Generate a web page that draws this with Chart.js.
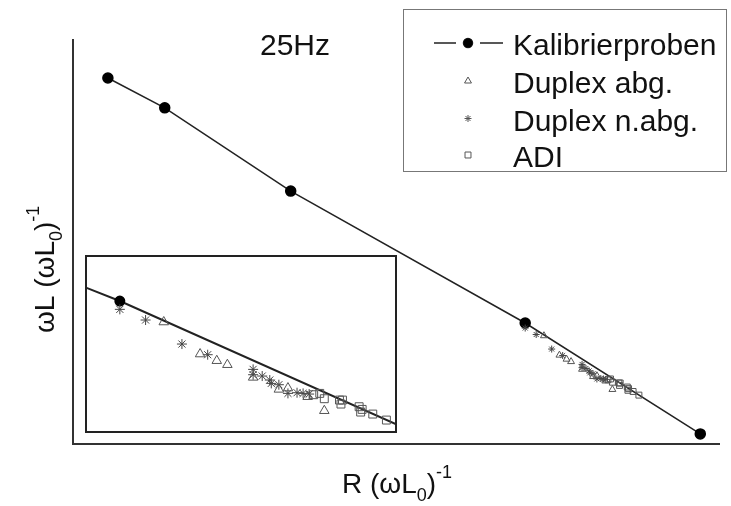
<!DOCTYPE html>
<html>
<head>
<meta charset="utf-8">
<script src="https://cdn.jsdelivr.net/npm/chart.js@4.4.0/dist/chart.umd.min.js"></script>
<style>
  html, body { margin: 0; padding: 0; background: #fff; }
  #wrap { position: relative; width: 731px; height: 506px; }
  #main { position: absolute; left: 0; top: 0; }
  #inset { position: absolute; left: 85px; top: 255px; }
</style>
</head>
<body>
<div id="wrap">
  <canvas id="main" width="731" height="506"></canvas>
  <canvas id="inset" width="312" height="178"></canvas>
</div>
<script>
// calibration samples (line with dots)
const calibX = [5.4, 14.2, 33.7, 70.0, 97.1];
const calibY = [90.6, 83.2, 62.6, 29.95, 2.5];

// Duplex abg. (triangles)
const duplexAbgX = [72.9, 75.3, 76.4, 77.1, 78.8, 80.5, 81.1, 82.4, 83.5];
const duplexAbgY = [26.8, 22.0, 21.0, 20.4, 18.5, 16.7, 16.9, 15.6, 13.5];

// Duplex n.abg. (stars)
const duplexNabgX = [70.0, 71.7, 74.1, 75.8, 78.8, 78.8, 79.4, 79.9, 80.0, 80.5, 81.1, 81.7, 82.1, 82.5];
const duplexNabgY = [28.7, 27.1, 23.5, 21.9, 19.7, 18.9, 18.7, 18.1, 17.6, 17.4, 16.1, 16.2, 16.1, 16.0];

// ADI (squares)
const adiX = [82.8, 83.2, 83.5, 84.5, 84.7, 84.6, 85.8, 86.0, 85.9, 86.7, 87.6];
const adiY = [15.9, 16.1, 15.3, 15.1, 15.1, 14.5, 14.1, 13.7, 13.3, 13.0, 12.1];

const seriesNames = ["Kalibrierproben", "Duplex abg.", "Duplex n.abg.", "ADI"];
const freqLabel = "25Hz";

const FONT = '"Liberation Sans", Arial, sans-serif';
const pts = (xs, ys) => xs.map((x, i) => ({ x: x, y: ys[i] }));

function makeDatasets(big) {
  // big = main chart, otherwise inset
  return [
    {
      type: "scatter", label: seriesNames[1], data: pts(duplexAbgX, duplexAbgY),
      pointStyle: "triangle", pointRadius: big ? 4 : 5.5,
      borderColor: "#555", backgroundColor: "rgba(255,255,255,0)", borderWidth: 1
    },
    {
      type: "scatter", label: seriesNames[2], data: pts(duplexNabgX, duplexNabgY),
      pointStyle: "star", pointRadius: big ? 3.5 : 5,
      borderColor: "#444", backgroundColor: "#444", borderWidth: 1
    },
    {
      type: "scatter", label: seriesNames[3], data: pts(adiX, adiY),
      pointStyle: "rect", pointRadius: big ? 4.2 : 5.6,
      borderColor: "#555", backgroundColor: "rgba(255,255,255,0)", borderWidth: 1
    },
    {
      type: "line", label: seriesNames[0], data: pts(calibX, calibY),
      borderColor: "#222", borderWidth: big ? 1.5 : 2,
      pointStyle: "circle", pointRadius: big ? 5 : 4.5,
      pointBackgroundColor: "#000", pointBorderColor: "#000", tension: 0
    }
  ];
}

function richText(ctx, x, y, parts, rotate) {
  ctx.save();
  ctx.translate(x, y);
  if (rotate) ctx.rotate(-Math.PI / 2);
  ctx.fillStyle = "#111";
  ctx.textBaseline = "alphabetic";
  let cx = 0;
  parts.forEach(p => {
    ctx.font = p.size + "px " + FONT;
    ctx.fillText(p.t, cx, p.dy || 0);
    cx += ctx.measureText(p.t).width;
  });
  ctx.restore();
}

const decorPlugin = {
  id: "decor",
  afterDraw(chart) {
    const ctx = chart.ctx;
    // axis titles
    richText(ctx, 342, 493, [
      { t: "R (\u03c9L", size: 28 },
      { t: "0", size: 18, dy: 8 },
      { t: ")", size: 28 },
      { t: "-1", size: 18, dy: -15 }
    ], false);
    richText(ctx, 54, 333, [
      { t: "\u03c9L (\u03c9L", size: 28 },
      { t: "0", size: 18, dy: 8 },
      { t: ")", size: 28 },
      { t: "-1", size: 18, dy: -15 }
    ], true);
    // frequency label
    ctx.save();
    ctx.font = "30px " + FONT;
    ctx.fillStyle = "#111";
    ctx.fillText(freqLabel, 260, 55);
    ctx.restore();

    // legend
    ctx.save();
    ctx.strokeStyle = "#777";
    ctx.lineWidth = 1;
    ctx.strokeRect(403.5, 9.5, 323, 162);
    const rows = [55, 92.5, 130.5, 166.5];
    ctx.font = "30px " + FONT;
    ctx.fillStyle = "#111";
    rows.forEach((b, i) => ctx.fillText(seriesNames[i], 513, b));
    const my = [43, 81, 118.5, 155];
    ctx.strokeStyle = "#222";
    ctx.lineWidth = 1.5;
    ctx.beginPath();
    ctx.moveTo(434, my[0]); ctx.lineTo(456, my[0]);
    ctx.moveTo(480, my[0]); ctx.lineTo(503, my[0]);
    ctx.stroke();
    ctx.fillStyle = "#000";
    Chart.helpers.drawPoint(ctx, { pointStyle: "circle", radius: 4.5, borderWidth: 1 }, 468, my[0]);
    ctx.fill();
    ctx.strokeStyle = "#555";
    ctx.lineWidth = 1;
    ctx.fillStyle = "rgba(255,255,255,0)";
    Chart.helpers.drawPoint(ctx, { pointStyle: "triangle", radius: 4, borderWidth: 1 }, 468, my[1]);
    Chart.helpers.drawPoint(ctx, { pointStyle: "star", radius: 3.5, borderWidth: 1 }, 468, my[2]);
    Chart.helpers.drawPoint(ctx, { pointStyle: "rect", radius: 4.2, borderWidth: 1 }, 468, my[3]);
    ctx.restore();
  }
};

new Chart(document.getElementById("main"), {
  data: { datasets: makeDatasets(true) },
  options: {
    responsive: false, animation: false, devicePixelRatio: 1,
    layout: { autoPadding: false, padding: { top: 40, right: 12, left: 0, bottom: 0 } },
    plugins: { legend: { display: false }, tooltip: { enabled: false } },
    scales: {
      x: {
        type: "linear", min: 0, max: 100,
        ticks: { display: false }, grid: { display: false, drawTicks: false },
        border: { display: true, color: "#333", width: 2 },
        afterFit: s => { s.height = 62; }
      },
      y: {
        type: "linear", min: 0, max: 100,
        ticks: { display: false }, grid: { display: false, drawTicks: false },
        border: { display: true, color: "#333", width: 2 },
        afterFit: s => { s.width = 73; }
      }
    }
  },
  plugins: [decorPlugin]
});

const insetFrame = {
  id: "insetFrame",
  beforeDraw(chart) {
    const ctx = chart.ctx;
    ctx.save();
    ctx.fillStyle = "#fff";
    ctx.fillRect(0, 0, chart.width, chart.height);
    ctx.restore();
  },
  afterDraw(chart) {
    const ctx = chart.ctx;
    ctx.save();
    ctx.strokeStyle = "#222";
    ctx.lineWidth = 2;
    ctx.strokeRect(1, 1, chart.width - 2, chart.height - 2);
    ctx.restore();
  }
};

new Chart(document.getElementById("inset"), {
  data: { datasets: makeDatasets(false) },
  options: {
    responsive: false, animation: false, devicePixelRatio: 1,
    layout: { autoPadding: false, padding: 0 },
    plugins: { legend: { display: false }, tooltip: { enabled: false } },
    scales: {
      x: { type: "linear", display: false, min: 67.7, max: 88.3 },
      y: { type: "linear", display: false, min: 10.16, max: 36.85 }
    }
  },
  plugins: [insetFrame]
});
</script>
</body>
</html>
